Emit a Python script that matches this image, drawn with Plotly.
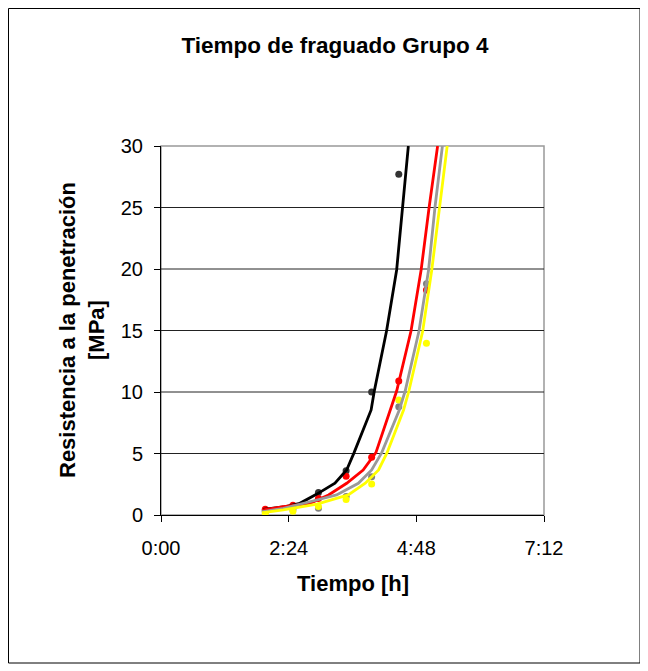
import plotly.graph_objects as go

FONT = "Liberation Sans, Arial, sans-serif"

# Measurement times (hours) and penetration resistance (MPa)
t_meas = [1.96, 2.48, 2.96, 3.48, 3.96, 4.47, 4.99]
black_vals = [0.35, 0.65, 1.82, 3.6, 10.0, 27.7]
red_vals = [0.46, 0.79, 1.35, 3.15, 4.7, 10.9, 18.3]
gray_vals = [0.25, 0.42, 0.54, 1.5, 3.1, 8.8, 18.8]
yellow_vals = [0.15, 0.3, 0.7, 1.27, 2.52, 9.35, 13.96]

# Trend curves (hours, MPa)
black_curve_t = [1.92, 2.30, 2.61, 2.93, 3.27, 3.49, 3.63, 3.95, 4.01, 4.24, 4.43, 4.54, 4.65]
black_curve_v = [0.45, 0.65, 0.95, 1.70, 2.58, 3.66, 5.07, 8.54, 10.08, 14.96, 19.92, 25.0, 30.0]
red_curve_t = [1.92, 2.30, 2.80, 3.15, 3.49, 3.80, 4.04, 4.31, 4.43, 4.70, 4.89, 5.04, 5.20]
red_curve_v = [0.41, 0.67, 0.95, 1.63, 2.58, 3.66, 5.07, 8.54, 10.08, 14.96, 19.92, 25.0, 30.0]
gray_curve_t = [1.92, 2.30, 2.93, 3.30, 3.71, 3.96, 4.15, 4.48, 4.59, 4.85, 5.03, 5.15, 5.29]
gray_curve_v = [0.28, 0.54, 1.22, 1.63, 2.58, 3.66, 5.07, 8.54, 10.08, 14.96, 19.92, 25.0, 30.0]
yellow_curve_t = [1.92, 2.30, 2.93, 3.52, 3.84, 4.09, 4.25, 4.56, 4.66, 4.92, 5.09, 5.23, 5.38]
yellow_curve_v = [0.19, 0.41, 0.89, 1.63, 2.58, 3.66, 5.07, 8.54, 10.08, 14.96, 19.92, 25.0, 30.0]

x_tick_vals = [0, 2.4, 4.8, 7.2]
x_tick_text = ["0:00", "2:24", "4:48", "7:12"]
y_tick_vals = [0, 5, 10, 15, 20, 25, 30]

series = [
    (black_vals, "#333333", black_curve_t, black_curve_v, "#000000"),
    (red_vals, "#ff0000", red_curve_t, red_curve_v, "#ff0000"),
    (gray_vals, "#808080", gray_curve_t, gray_curve_v, "#999999"),
    (yellow_vals, "#ffff00", yellow_curve_t, yellow_curve_v, "#ffff00"),
]

# figure geometry (figure sits at 8px page margin)
W, H = 640, 663
L, R, T, B = 153, 104, 138, 156
PW, PH = W - L - R, H - T - B


def px(fx):
    return (fx - L) / PW


def py(fy):
    return (H - B - fy) / PH


fig = go.Figure()
for vals, mcol, ct, cv, lcol in series:
    fig.add_trace(go.Scatter(x=t_meas[:len(vals)], y=vals, mode="markers",
                             marker=dict(color=mcol, size=7), showlegend=False))
for vals, mcol, ct, cv, lcol in series:
    fig.add_trace(go.Scatter(x=ct, y=cv, mode="lines",
                             line=dict(color=lcol, width=2.8), showlegend=False))

shapes = []
shapes.append(dict(type="rect", xref="paper", yref="paper", x0=0, x1=1, y0=0, y1=1,
                   line=dict(color="#999999", width=1.5), layer="below"))
for v in y_tick_vals[1:-1]:
    shapes.append(dict(type="line", xref="paper", yref="y", x0=0, x1=1, y0=v, y1=v,
                       line=dict(color="#222222", width=1), layer="below"))
shapes.append(dict(type="rect", xref="paper", yref="paper",
                   x0=px(0.5), x1=px(632), y0=py(655), y1=py(0.5),
                   line=dict(color="#000000", width=1)))

annotations = [
    dict(text="<b>Tiempo [h]</b>", xref="paper", yref="paper", x=0.5, y=py(575),
         xanchor="center", yanchor="middle", showarrow=False,
         font=dict(size=22, family=FONT, color="black")),
    dict(text="<b>Resistencia a la penetración<br>[MPa]</b>", xref="paper", yref="paper",
         x=px(74), y=py(322), xanchor="center", yanchor="middle", showarrow=False,
         textangle=-90, font=dict(size=22, family=FONT, color="black")),
]

fig.update_layout(
    width=W, height=H,
    margin=dict(l=L, r=R, t=T, b=B),
    paper_bgcolor="white", plot_bgcolor="white",
    font=dict(family=FONT, color="black"),
    title=dict(text="<b>Tiempo de fraguado Grupo 4</b>", x=327 / W, xanchor="center",
               y=1 - 37 / H, yanchor="middle", font=dict(size=22.5, family=FONT)),
    shapes=shapes,
    annotations=annotations,
    xaxis=dict(range=[0, 7.2], tickvals=x_tick_vals, ticktext=x_tick_text,
               showgrid=False, zeroline=False, showline=True, linecolor="black", linewidth=1,
               ticks="outside", ticklen=6, tickcolor="black", ticklabelstandoff=9,
               tickfont=dict(size=20, family=FONT)),
    yaxis=dict(range=[0, 30], tickvals=y_tick_vals,
               showgrid=False, zeroline=False, showline=True, linecolor="black", linewidth=1,
               ticks="outside", ticklen=6, tickcolor="black", ticklabelstandoff=7,
               tickfont=dict(size=20, family=FONT)),
)

fig.write_html("out.html")
